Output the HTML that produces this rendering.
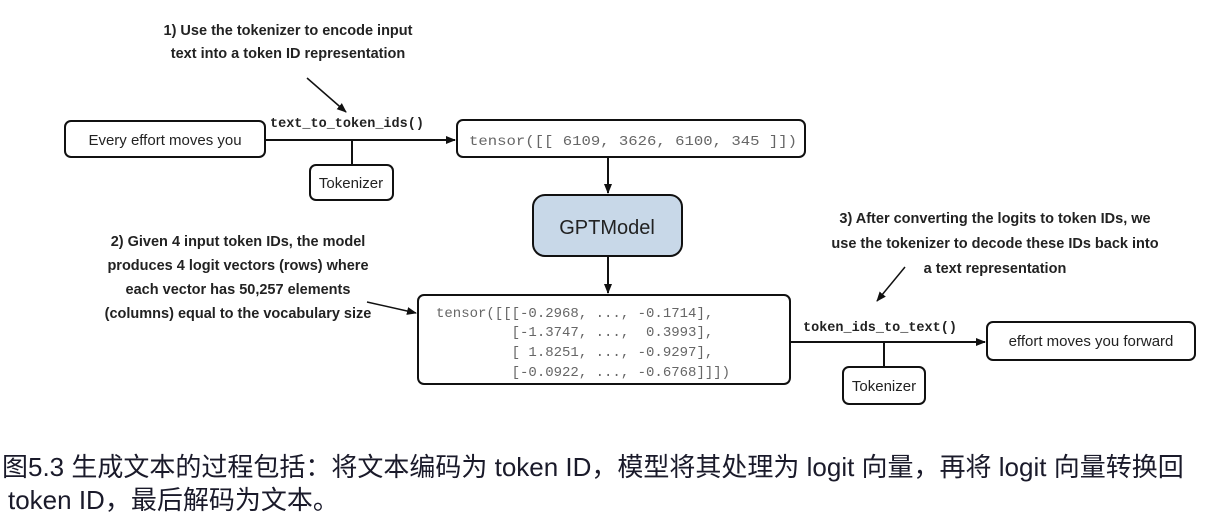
<!DOCTYPE html>
<html><head><meta charset="utf-8"><style>
body{margin:0;background:#fff;width:1214px;height:518px;overflow:hidden}
svg{display:block}
.a{font-family:"Liberation Sans Narrow","Liberation Sans",sans-serif;font-weight:bold;font-size:14.5px;fill:#222}
.s{font-family:"Liberation Sans",sans-serif;font-size:15px;fill:#222}
.m{font-family:"Liberation Mono",monospace;font-size:14px;fill:#666}
.mb{font-family:"Liberation Mono",monospace;font-size:13.5px;font-weight:bold;fill:#222}
.c{font-family:"Liberation Sans","Noto Sans CJK SC",sans-serif;font-size:26px;fill:#1a1a2a}
</style></head><body>
<svg width="1214" height="518" viewBox="0 0 1214 518">
<defs><marker id="ar" markerWidth="10" markerHeight="10" refX="9" refY="5" orient="auto" markerUnits="userSpaceOnUse"><path d="M0,1 L10,5 L0,9 z" fill="#111"/></marker></defs>
<g fill="none" stroke="#111" stroke-width="2">
<rect x="65" y="121" width="200" height="36" rx="6"/>
<rect x="310" y="165" width="83" height="35" rx="6"/>
<rect x="457" y="120" width="348" height="37" rx="6"/>
<rect x="533" y="195" width="149" height="61" rx="12" fill="#c8d8e8"/>
<rect x="418" y="295" width="372" height="89" rx="6"/>
<rect x="987" y="322" width="208" height="38" rx="6"/>
<rect x="843" y="367" width="82" height="37" rx="6"/>
<line x1="265" y1="140" x2="455" y2="140" marker-end="url(#ar)"/>
<line x1="352" y1="140" x2="352" y2="165"/>
<line x1="608" y1="157" x2="608" y2="193" marker-end="url(#ar)"/>
<line x1="608" y1="256" x2="608" y2="293" marker-end="url(#ar)"/>
<line x1="790" y1="342" x2="985" y2="342" marker-end="url(#ar)"/>
<line x1="884" y1="342" x2="884" y2="367"/>
<g stroke-width="1.5">
<line x1="307" y1="78" x2="346" y2="112" marker-end="url(#ar)"/>
<line x1="367" y1="302" x2="416" y2="313" marker-end="url(#ar)"/>
<line x1="905" y1="267" x2="877" y2="301" marker-end="url(#ar)"/>
</g>
</g>
<text class="s" x="165" y="145" text-anchor="middle">Every effort moves you</text>
<text class="s" x="351" y="188" text-anchor="middle">Tokenizer</text>
<text class="s" x="884" y="391" text-anchor="middle">Tokenizer</text>
<text class="s" x="1091" y="346" text-anchor="middle">effort moves you forward</text>
<text x="607" y="234" text-anchor="middle" style="font-family:'Liberation Sans',sans-serif;font-size:20px;fill:#222">GPTModel</text>
<text class="m" x="469" y="145" textLength="328" lengthAdjust="spacingAndGlyphs">tensor([[ 6109, 3626, 6100, 345 ]])</text>
<text class="m" x="436" y="317" xml:space="preserve">tensor([[[-0.2968, ..., -0.1714],</text>
<text class="m" x="436" y="336" xml:space="preserve">         [-1.3747, ...,  0.3993],</text>
<text class="m" x="436" y="356" xml:space="preserve">         [ 1.8251, ..., -0.9297],</text>
<text class="m" x="436" y="376" xml:space="preserve">         [-0.0922, ..., -0.6768]]])</text>
<text class="mb" x="270" y="127">text_to_token_ids()</text>
<text class="mb" x="803" y="331">token_ids_to_text()</text>
<g class="a" text-anchor="middle">
<text x="288" y="35">1) Use the tokenizer to encode input</text>
<text x="288" y="58">text into a token ID representation</text>
<text x="238" y="246">2) Given 4 input token IDs, the model</text>
<text x="238" y="270">produces 4 logit vectors (rows) where</text>
<text x="238" y="294">each vector has 50,257 elements</text>
<text x="238" y="318">(columns) equal to the vocabulary size</text>
<text x="995" y="223">3) After converting the logits to token IDs, we</text>
<text x="995" y="248">use the tokenizer to decode these IDs back into</text>
<text x="995" y="273">a text representation</text>
</g>
<text class="c" x="2" y="476">图5.3 生成文本的过程包括：将文本编码为 token ID，模型将其处理为 logit 向量，再将 logit 向量转换回</text>
<text class="c" x="8" y="509">token ID，最后解码为文本。</text>
</svg>
</body></html>
